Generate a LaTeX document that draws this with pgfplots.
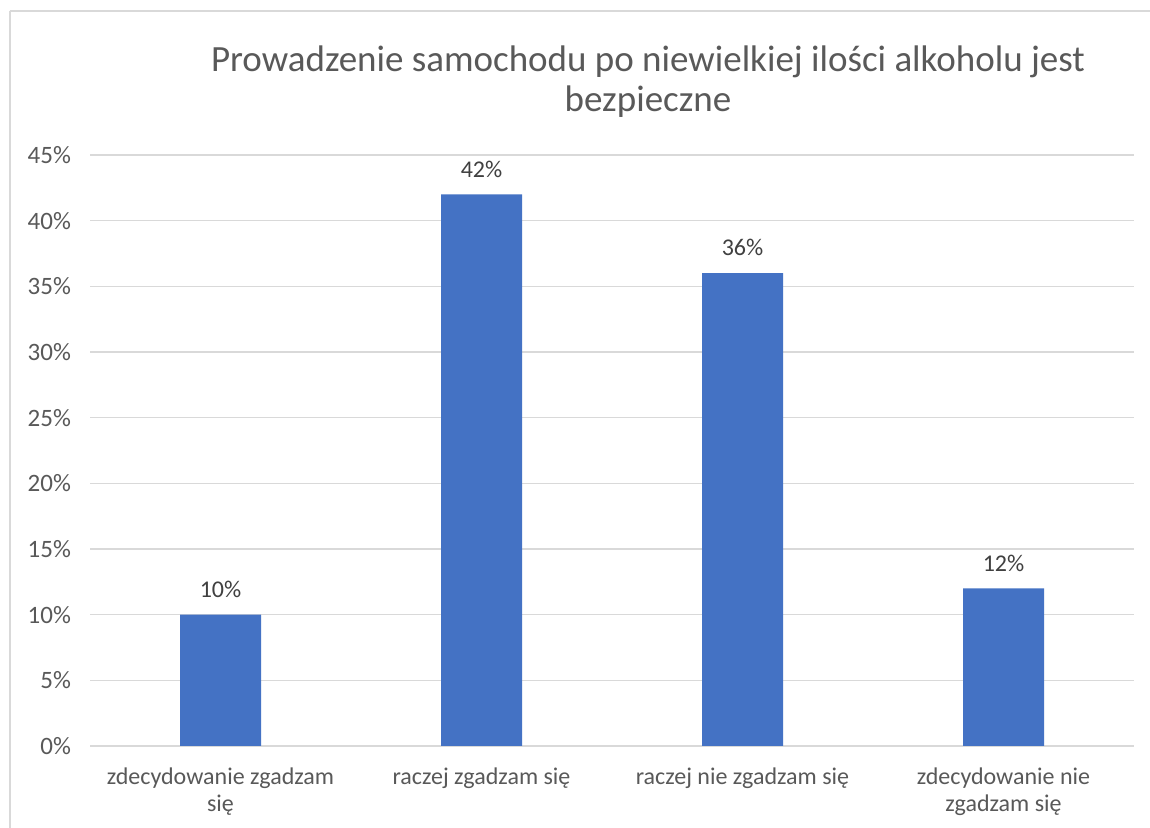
\documentclass[border=0pt]{standalone}
\usepackage{fontspec}
\setmainfont{Carlito}
\usepackage{pgfplots}
\pgfplotsset{compat=1.18}
\definecolor{barblue}{RGB}{68,114,196}
\definecolor{gridgray}{RGB}{217,217,217}
\definecolor{ticktext}{RGB}{89,89,89}
\definecolor{labeltext}{RGB}{64,64,64}
\begin{document}
\begin{tikzpicture}[x=0.5pt,y=0.5pt]
\useasboundingbox (0,0) rectangle (1150,828);
\fill[white] (0,0) rectangle (1150,828);
\draw[gridgray,line width=1pt] (9.5,816.5) -- (1170,816.5);
\draw[gridgray,line width=1pt] (9.5,816.5) -- (9.5,-10);
\node[anchor=base,text=ticktext,font=\fontsize{18.5pt}{20pt}\selectfont,align=center] at (648,716) {Prowadzenie samochodu po niewielkiej ilości alkoholu jest\\bezpieczne};
\begin{axis}[
  at={(45pt,41pt)}, anchor=south west,
  scale only axis, width=522pt, height=295.5pt,
  xmin=-0.5, xmax=3.5, ymin=0, ymax=45,
  axis line style={draw=none},
  ytick={0,5,...,45},
  yticklabel={\pgfmathprintnumber{\tick}\%},
  /pgf/number format/assume math mode=true,
  ymajorgrids, grid style={gridgray,line width=0.6pt},
  major tick length=0pt,
  xtick={0,1,2,3},
  xticklabels={{zdecydowanie zgadzam\\się},{raczej zgadzam się},{raczej nie zgadzam się},{zdecydowanie nie\\zgadzam się}},
  xticklabel style={align=center,text=ticktext,font=\fontsize{12pt}{13.5pt}\selectfont,yshift=-7.5pt},
  yticklabel style={text=ticktext,font=\fontsize{12.5pt}{14pt}\selectfont,xshift=-6pt},
  clip=false,
]
\addplot[ybar, bar width=40.5pt, fill=barblue, draw=none,
  nodes near coords={\pgfmathprintnumber{\pgfplotspointmeta}\%},
  nodes near coords style={text=labeltext,font=\fontsize{12pt}{14pt}\selectfont,/pgf/number format/assume math mode=true,yshift=5pt},
] coordinates {(0,10) (1,42) (2,36) (3,12)};
\end{axis}
\end{tikzpicture}
\end{document}
